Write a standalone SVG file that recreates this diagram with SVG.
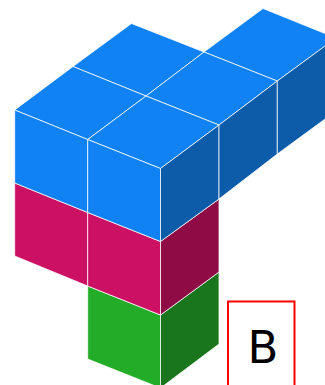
<svg xmlns="http://www.w3.org/2000/svg" width="325" height="385" viewBox="0 0 325 385">
<style>
.e{stroke:#ffffff;stroke-opacity:.75;stroke-width:1;stroke-linejoin:round}
.bt{fill:#1182f3}.br{fill:#0d5ca9}
.mf{fill:#cc1064}.mr{fill:#8f0b46}
.gf{fill:#22ac27}.gr{fill:#1a761c}
</style>
<rect width="325" height="385" fill="#ffffff"/>
<g id="green">
<polygon class="gf e" points="87.700,286 160.500,315 160.500,388 87.700,359"/>
<polygon class="gr e" points="160.500,315 219,272 219,344 160.500,388"/>
</g>
<g id="magenta">
<polygon class="mf e" points="14.700,183 87.700,212.500 87.700,286 14.700,256"/>
<polygon class="mf e" points="87.700,212.500 160.500,241.500 160.500,315 87.700,286"/>
<polygon class="mr e" points="160.500,241.500 219,199 219,272 160.500,315"/>
</g>
<g id="blue">
<polygon class="bt e" points="131.500,23.500 204,52 146,96 73,66.500"/>
<polygon class="bt e" points="263,8.500 336,38 277.300,81 204,52"/>
<polygon class="bt e" points="73,66.500 146,96 87.700,139.500 14.700,110"/>
<polygon class="bt e" points="204,52 277.300,81 219,125 146,96"/>
<polygon class="bt e" points="146,96 219,125 160.500,168.500 87.700,139.500"/>
<polygon class="bt e" points="14.700,110 87.700,139.500 87.700,212.500 14.700,183"/>
<polygon class="bt e" points="87.700,139.500 160.500,168.500 160.500,241.500 87.700,212.500"/>
<polygon class="br e" points="160.500,168.500 219,125 219,199 160.500,241.500"/>
<polygon class="br e" points="219,125 277.300,81 277.300,154 219,199"/>
<polygon class="br e" points="277.300,81 336,38 336,111 277.300,154"/>
</g>
<g id="label-b">
<rect x="228" y="301.500" width="66.500" height="90" fill="#ffffff" stroke="#ff0000" stroke-width="2"/>
<text x="247.600" y="363" font-family="'DejaVu Sans',sans-serif" font-size="45" fill="#000000">B</text>
</g>
</svg>
